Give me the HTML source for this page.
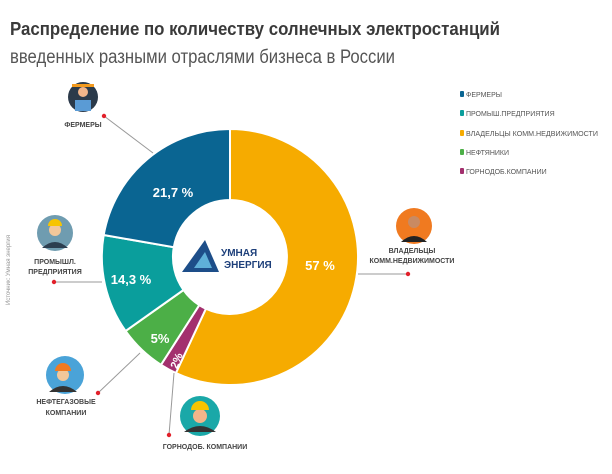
<!DOCTYPE html>
<html><head><meta charset="utf-8"><style>
body{margin:0;background:#fff;width:612px;height:469px;overflow:hidden;font-family:"Liberation Sans",sans-serif}
</style></head><body>
<svg width="612" height="469" viewBox="0 0 612 469" xmlns="http://www.w3.org/2000/svg" font-family="Liberation Sans, sans-serif">
<text x="10" y="35" font-size="18" font-weight="bold" fill="#3a3a3a" textLength="490" lengthAdjust="spacingAndGlyphs">Распределение по количеству солнечных электростанций</text>
<text x="10" y="63" font-size="19" fill="#555" textLength="385" lengthAdjust="spacingAndGlyphs">введенных разными отраслями бизнеса в России</text>
<text transform="translate(10,270) rotate(-90)" font-size="6" fill="#999" text-anchor="middle">Источник: Умная энергия</text>
<g stroke="#fff" stroke-width="2">
<path d="M230,129 A128,128 0 1 1 175.9,373.0 L205.9,308.7 A57,57 0 1 0 230,200 Z" fill="#f6ab00"/>
<path d="M175.9,373.0 A128,128 0 0 1 161.0,364.8 L199.3,305.1 A57,57 0 0 0 205.9,308.7 Z" fill="#a3306e"/>
<path d="M161.0,364.8 A128,128 0 0 1 125.6,331.0 L183.5,290.0 A57,57 0 0 0 199.3,305.1 Z" fill="#4caf47"/>
<path d="M125.6,331.0 A128,128 0 0 1 103.7,235.0 L173.8,247.2 A57,57 0 0 0 183.5,290.0 Z" fill="#0a9e9c"/>
<path d="M103.7,235.0 A128,128 0 0 1 230,129 L230,200 A57,57 0 0 0 173.8,247.2 Z" fill="#0a6592"/>
</g>
<g fill="#fff" font-weight="bold" font-size="13" text-anchor="middle">
<text x="173" y="197">21,7 %</text>
<text x="131" y="284">14,3 %</text>
<text x="160" y="343">5%</text>
<text x="320" y="270">57 %</text>
<text transform="translate(180,362) rotate(-68)" font-size="11">2%</text>
</g>
<polygon points="182,272 205,240 219,272" fill="#1d4e89"/>
<polygon points="194,268 205,252 212,268" fill="#5fb0d8"/>
<text x="221" y="256" font-size="10" font-weight="bold" fill="#1d3f7a">УМНАЯ</text>
<text x="224" y="268" font-size="10" font-weight="bold" fill="#1d3f7a">ЭНЕРГИЯ</text>
<g stroke="#999" stroke-width="1" fill="none">
<line x1="104" y1="116" x2="153" y2="153"/>
<line x1="54" y1="282" x2="102" y2="282"/>
<line x1="98" y1="393" x2="140" y2="353"/>
<line x1="169" y1="435" x2="174" y2="373"/>
<line x1="358" y1="274" x2="408" y2="274"/>
</g>
<g fill="#e2202a">
<circle cx="104" cy="116" r="2.2"/><circle cx="54" cy="282" r="2.2"/><circle cx="98" cy="393" r="2.2"/><circle cx="169" cy="435" r="2.2"/><circle cx="408" cy="274" r="2.2"/>
</g>
<circle cx="83" cy="97" r="15" fill="#2b3a4a"/><circle cx="83" cy="92" r="5" fill="#f2b58a"/><rect x="72" y="84" width="22" height="3" fill="#f39a1e"/><rect x="75" y="100" width="16" height="11" fill="#5a9bd5"/>
<circle cx="55" cy="233" r="18" fill="#6f9cb0"/><circle cx="55" cy="230" r="6" fill="#f2c79a"/><path d="M48,226 A7,7 0 0 1 62,226Z" fill="#f6c400"/><path d="M42,248 Q55,236 68,248 Z" fill="#2c3e50"/>
<circle cx="65" cy="375" r="19" fill="#4aa3d8"/><circle cx="63" cy="375" r="6" fill="#f2c79a"/><path d="M55,371 A8,8 0 0 1 71,371Z" fill="#f07a20"/><path d="M49,392 Q63,380 77,392 Z" fill="#333"/>
<circle cx="200" cy="416" r="20" fill="#1aa8a8"/><circle cx="200" cy="416" r="7" fill="#f2b58a"/><path d="M191,410 A9,9 0 0 1 209,410Z" fill="#f6c400"/><path d="M184,432 Q200,420 216,432 Z" fill="#333"/>
<circle cx="414" cy="226" r="18" fill="#f07a20"/><circle cx="414" cy="222" r="6" fill="#c98a62"/><path d="M401,242 Q414,230 427,242 Z" fill="#222"/>
<g font-size="7" font-weight="bold" fill="#444" text-anchor="middle">
<text x="83" y="127">ФЕРМЕРЫ</text>
<text x="55" y="264">ПРОМЫШЛ.</text><text x="55" y="274">ПРЕДПРИЯТИЯ</text>
<text x="66" y="404">НЕФТЕГАЗОВЫЕ</text><text x="66" y="415">КОМПАНИИ</text>
<text x="205" y="449">ГОРНОДОБ. КОМПАНИИ</text>
<text x="412" y="253">ВЛАДЕЛЬЦЫ</text><text x="412" y="263">КОММ.НЕДВИЖИМОСТИ</text>
</g>
<g font-size="7" fill="#555">
<rect x="460" y="91" width="4" height="6" rx="1" fill="#0a6592"/><text x="466" y="97">ФЕРМЕРЫ</text>
<rect x="460" y="110" width="4" height="6" rx="1" fill="#0a9e9c"/><text x="466" y="116">ПРОМЫШ.ПРЕДПРИЯТИЯ</text>
<rect x="460" y="130" width="4" height="6" rx="1" fill="#f6ab00"/><text x="466" y="136" textLength="132" lengthAdjust="spacingAndGlyphs">ВЛАДЕЛЬЦЫ КОММ.НЕДВИЖИМОСТИ</text>
<rect x="460" y="149" width="4" height="6" rx="1" fill="#4caf47"/><text x="466" y="155">НЕФТЯНИКИ</text>
<rect x="460" y="168" width="4" height="6" rx="1" fill="#a3306e"/><text x="466" y="174">ГОРНОДОБ.КОМПАНИИ</text>
</g>
</svg>
</body></html>
